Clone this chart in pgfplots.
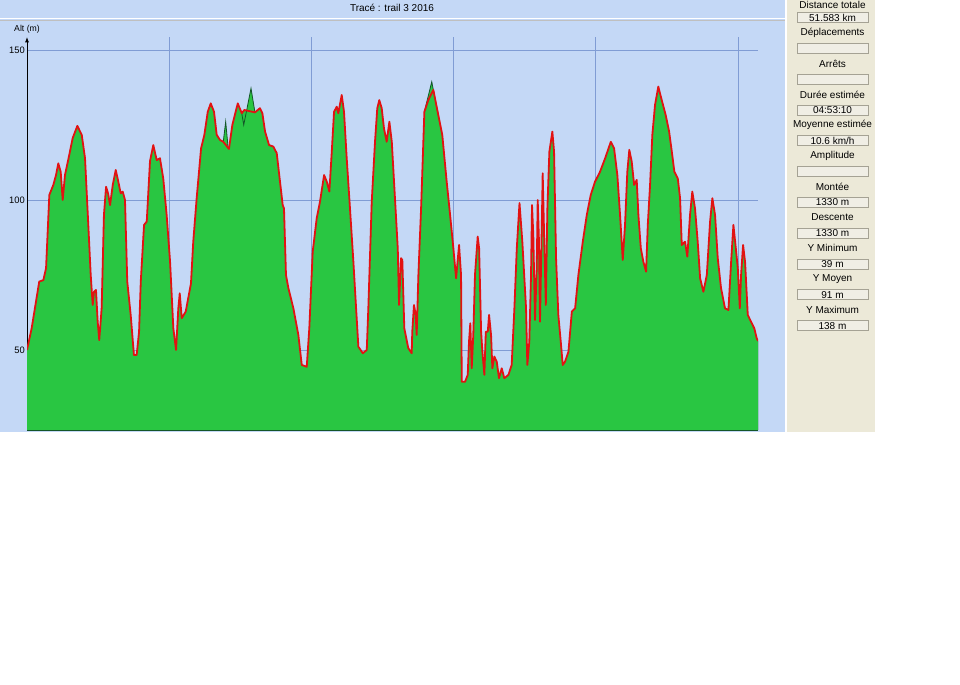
\documentclass[border=0pt]{standalone}
\usepackage{pgfplots}
\pgfplotsset{compat=1.18}
\usepackage{pgfplotstable}
\usepackage{fontspec}
\setmainfont{Liberation Sans}
\usetikzlibrary{arrows.meta}
\definecolor{panel}{RGB}{196,216,246}
\definecolor{side}{RGB}{236,233,216}
\definecolor{boxfill}{RGB}{240,238,229}
\definecolor{boxdraw}{RGB}{165,162,148}
\definecolor{fillg}{RGB}{41,198,66}
\definecolor{darkg}{RGB}{20,85,40}
\definecolor{redl}{RGB}{226,18,18}
\definecolor{gridc}{RGB}{128,156,212}

\pgfplotstableread{
km alt
0.00 50
0.33 57.3
0.86 72.8
1.15 73.3
1.34 77.3
1.57 101.7
1.85 105
2.04 108.3
2.20 112.2
2.37 109.4
2.51 100
2.67 108.3
2.97 115
3.21 120.6
3.54 124.7
3.85 121.7
4.08 113.9
4.31 91.7
4.48 75
4.62 65
4.71 69.4
4.85 70
4.97 59.4
5.08 53.3
5.25 64
5.41 95
5.56 104.4
5.70 102.2
5.84 98.3
6.03 105
6.24 110
6.42 106.1
6.59 102.2
6.73 102.8
6.89 100
7.05 72.8
7.29 61.7
7.52 48.3
7.71 48.3
7.88 56.1
8.00 72.8
8.23 91.7
8.42 92.8
8.65 113
8.88 118.3
9.12 113.3
9.35 113.9
9.58 107.2
9.82 95
10.06 79.4
10.29 57.2
10.48 50
10.64 63.9
10.74 68.9
10.88 60.6
11.16 62.8
11.53 72.2
11.69 86.1
11.93 100.6
12.24 117.2
12.47 121.7
12.71 129.4
12.92 132.2
13.15 129.4
13.34 121.7
13.57 120
13.80 119.4
14.20 117
14.44 125
14.82 132.2
15.10 128.9
15.28 130
15.56 129.7
16.03 129.2
16.38 130.6
16.55 128.9
16.74 122.8
17.02 118.3
17.32 117.8
17.56 115.6
17.79 106.1
17.98 98.3
18.07 97.2
18.21 75
18.38 70.6
18.73 63.9
19.08 55
19.32 45
19.67 44.4
19.85 57.2
20.09 82.8
20.37 93.9
20.60 99.4
20.89 108.3
21.08 106.1
21.26 102.8
21.43 116.1
21.59 129.4
21.78 131.1
21.89 128.9
22.13 135
22.29 129.4
22.48 113.9
22.71 97.2
22.95 79.4
23.14 63.9
23.30 51.1
23.61 48.9
23.89 50
24.00 63.9
24.24 99.4
24.47 119.4
24.63 130.6
24.77 133.3
24.94 130.6
25.10 123.9
25.29 119.4
25.48 126.1
25.65 119.4
25.88 100
26.07 83.9
26.16 65
26.30 80.6
26.39 80
26.53 57.2
26.81 50.6
27.05 48.9
27.09 56.1
27.21 65
27.33 61.7
27.40 55
27.52 75
27.71 97.2
27.94 129.4
28.22 133.3
28.57 136.7
28.92 128.3
29.20 121.7
29.51 106.1
29.75 95
29.98 83.9
30.17 73.9
30.38 85
30.52 75
30.57 39.4
30.80 39.4
30.99 41.7
31.08 52.8
31.17 58.9
31.27 43.9
31.38 55
31.50 75
31.69 87.8
31.79 83.9
31.93 56.1
32.02 49.4
32.16 41.7
32.26 56.1
32.40 56.1
32.49 61.7
32.63 55
32.72 43.9
32.86 47.8
33.03 46.1
33.19 40.6
33.38 43.9
33.56 40.6
33.85 41.7
34.08 45
34.27 63.9
34.44 83.9
34.63 99
34.83 86
35.09 63.9
35.18 45
35.32 52.8
35.44 75
35.51 98.3
35.60 88.3
35.72 60
35.84 77.2
35.91 100
36.00 86.1
36.07 59.4
36.17 83.9
36.26 108.9
36.36 88.3
36.48 65
36.59 97.2
36.73 116.1
36.94 122.8
37.06 116.1
37.20 80.6
37.36 61.7
37.53 52.8
37.67 45
37.83 46.1
38.07 49.4
38.31 62.8
38.54 63.9
38.77 75
39.08 86.1
39.36 95
39.64 101.7
39.94 106.1
40.29 109.4
40.65 113.9
41.05 119.4
41.28 117.2
41.51 108.3
41.70 95
41.89 80
42.05 91.7
42.21 109.4
42.35 116.7
42.52 112.8
42.69 105
42.87 106.7
42.99 95
43.16 83.9
43.34 79.4
43.53 76.1
43.65 91.7
43.81 105
43.97 121.7
44.16 131.7
44.39 137.8
44.63 133.3
44.91 128.3
45.15 122.8
45.34 116.1
45.52 109.4
45.76 107.2
45.92 100.6
46.04 85
46.27 86.1
46.43 81.1
46.62 95
46.78 102.8
46.97 97.2
47.16 86.1
47.33 73.9
47.56 69.4
47.80 75
48.03 92.8
48.19 100.6
48.38 95
48.57 80.6
48.80 70.6
49.08 63.9
49.32 63.3
49.51 79.4
49.67 91.7
49.84 83.9
49.98 77.2
50.12 63.9
50.21 75
50.35 85
50.49 79.4
50.61 68.3
50.68 61.7
50.91 59.4
51.14 57.2
51.31 53.9
51.40 53
}\prof

\newcommand\sideitem[4][0]{%
  \node[font=\fontsize{7.5}{9}\selectfont, inner sep=0pt] at (832.5,{683-#1-30.8*#2}) {#3};
  \filldraw[fill=boxfill, draw=boxdraw, line width=0.75pt] (797,{685-12.7-30.8*#2}) rectangle (868,{685-22.7-30.8*#2});
  \node[font=\fontsize{7.5}{9}\selectfont, inner sep=0pt] at (832.5,{685-17.7-30.8*#2}) {#4};
}

\begin{document}
\begin{tikzpicture}
\begin{scope}[x=0.75pt,y=0.75pt]
\useasboundingbox (0,0) rectangle (960,685);
\fill[white] (0,0) rectangle (960,685);
\fill[panel] (0,253) rectangle (785,685);
\fill[side] (787,253) rectangle (875,685);
\draw[white, line width=1.2pt] (0,666.3) -- (785,666.3);
\draw[black!25, line width=0.6pt] (0,665) -- (785,665);
\node[font=\fontsize{7.5}{9}\selectfont, inner sep=0pt] at (392,677) {Tracé : trail 3 2016};
\node[font=\fontsize{6.5}{8}\selectfont, inner sep=0pt] at (27,656) {Alt (m)};
\sideitem[2.5]{0}{Distance totale}{51.583 km}
\sideitem{1}{Déplacements}{}
\sideitem{2}{Arrêts}{}
\sideitem{3}{Durée estimée}{04:53:10}
\sideitem{4}{Moyenne estimée}{10.6 km/h}
\sideitem{5}{Amplitude}{}
\sideitem{6}{Montée}{1330 m}
\sideitem{7}{Descente}{1330 m}
\sideitem{8}{Y Minimum}{39 m}
\sideitem{9}{Y Moyen}{91 m}
\sideitem{10}{Y Maximum}{138 m}
\end{scope}
\begin{axis}[
  at={(20.25pt,191.25pt)}, anchor=south west,
  scale only axis, width=548.25pt, height=294.75pt,
  xmin=0, xmax=51.4, ymin=23.33, ymax=154.33,
  axis lines=left,
  x axis line style={-, draw=darkg, line width=0.8pt},
  y axis line style={-{Latex[length=4pt,width=3pt]}, draw=black, line width=0.75pt},
  xtick={10,20,30,40,50}, xticklabels={,,,,},
  ytick={50,100,150},
  major tick length=0pt,
  grid=major,
  grid style={gridc, line width=0.7pt},
  /pgf/number format/assume math mode=true,
  yticklabel style={font=\fontsize{7}{8}\selectfont, inner sep=1.5pt},
  axis on top=false,
]
\addplot[fill=fillg, draw=none] table[x=km,y=alt] {\prof} \closedcycle;
\addplot[fill=fillg, draw=none] coordinates {(13.80,119.4)(13.97,126.1)(14.13,118)(14.20,117)} \closedcycle;
\addplot[fill=fillg, draw=none] coordinates {(15.10,128.9)(15.24,125)(15.75,137.2)(16.03,129.2)} \closedcycle;
\addplot[fill=fillg, draw=none] coordinates {(27.94,129.4)(28.46,139.4)(28.92,128.3)} \closedcycle;
\addplot[darkg, line width=0.6pt] coordinates {(13.80,119.4)(13.97,126.1)(14.13,118)};
\addplot[darkg, line width=0.6pt] coordinates {(15.10,128.9)(15.24,125)(15.75,137.2)(16.03,129.2)};
\addplot[darkg, line width=0.6pt] coordinates {(27.94,129.4)(28.46,139.4)(28.92,128.3)};
\addplot[darkg, line width=0.6pt] coordinates {(51.40,23.33)(51.40,53)};
\addplot[redl, line width=1.35pt, line join=round] table[x=km,y=alt] {\prof};
\end{axis}
\end{tikzpicture}
\end{document}
